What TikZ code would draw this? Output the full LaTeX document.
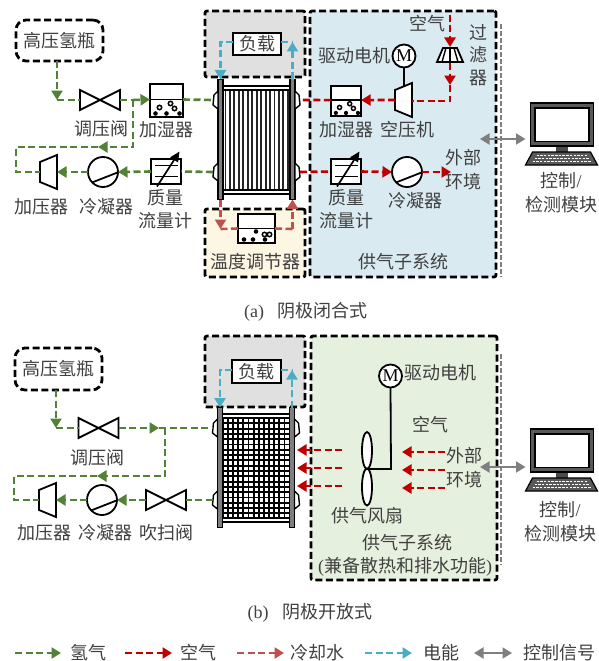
\documentclass[tikz,border=0pt]{standalone}
\usepackage{fontspec}
\setmainfont{Liberation Serif}
\newfontfamily\cjkfam{Noto Sans CJK SC}
\usetikzlibrary{arrows.meta}
\definecolor{txt}{HTML}{404040}
\definecolor{hgreen}{HTML}{538135}
\definecolor{ared}{HTML}{C00000}
\definecolor{cred}{HTML}{C0504D}
\definecolor{eblue}{HTML}{4BACC6}
\definecolor{sgray}{HTML}{7F7F7F}
\definecolor{loadfill}{HTML}{E0E0E0}
\definecolor{tempfill}{HTML}{FDF6E3}
\definecolor{airfill}{HTML}{DAEAF1}
\definecolor{fanfill}{HTML}{E6F0DF}
\newcommand{\stackframe}{%
  \foreach \s in {-1,1}{
    \draw[line width=1.4pt,fill=sgray] (\s*33.5,-60) rectangle (\s*38.5,60);
    \foreach \b in {-39.5,32.5}{
      \draw[line width=1.4pt,fill=white] (\s*38.5,\b-9) -- (\s*42.5,\b-5) -- (\s*43.5,\b+5) -- (\s*38.5,\b+9) -- cycle;
    }
  }
  \draw[line width=1.4pt,fill=white] (-33.5,-53.5) rectangle (33.5,-49.5);
  \draw[line width=1.4pt,fill=white] (-33.5,50.5) rectangle (33.5,54.5);
  \coordinate (-wn) at (-43.5,-39.5);
  \coordinate (-ws) at (-43.5,32.5);
  \coordinate (-en) at (43.5,-39.5);
  \coordinate (-es) at (43.5,32.5);
  \coordinate (-tl) at (-36,-60);
  \coordinate (-tr) at (36,-60);
  \coordinate (-bl) at (-36,60);
  \coordinate (-br) at (36,60);
}
\tikzset{
  x=1pt,y=-1pt,
  lbl/.style={font=\fontsize{18}{20}\cjkfam,text=txt,inner sep=0pt,outer sep=0pt},
  dbox/.style={draw=black,line width=2.8pt,dash pattern=on 7pt off 3.5pt,rounded corners=2pt,inner sep=0pt,outer sep=0pt},
  sbox/.style={draw=black,line width=1.9pt,fill=white,inner sep=0pt,outer sep=0pt,font=\fontsize{18}{20}\cjkfam,text=txt},
  pipe/.style={line width=2.6pt,dash pattern=on 7pt off 3.5pt},
  h2/.style={pipe,draw=hgreen},
  air/.style={pipe,draw=ared},
  cool/.style={pipe,draw=cred},
  elec/.style={pipe,draw=eblue},
  tip/.style={-{Triangle[length=9.5pt,width=11pt]}},
  ctrl/.style={draw=sgray,line width=1.9pt,{Triangle[length=9.5pt,width=11pt]}-{Triangle[length=9.5pt,width=11pt]}},
  sysline/.style={draw=sgray,line width=2.4pt,dash pattern=on 5pt off 2pt},
  part/.style={draw=black,line width=1.8pt},
  pics/valve/.style={code={
    \draw[part,fill=white] (-20,-10) -- (20,10) -- (20,-10) -- (-20,10) -- cycle;
    \coordinate (-w) at (-20,0);\coordinate (-e) at (20,0);
  }},
  pics/cond/.style={code={
    \draw[part,fill=white] (0,0) circle (15);
    \draw[part] (-11,10.5) -- (14.5,0.5);
    \coordinate (-w) at (-15,0);\coordinate (-e) at (15,0);
  }},
  pics/compL/.style={code={
    \draw[part,fill=white] (-8.5,-10) -- (8.5,-17) -- (8.5,17) -- (-8.5,10) -- cycle;
    \coordinate (-w) at (-8.5,0);\coordinate (-e) at (8.5,0);
  }},
  pics/flowm/.style={code={
    \draw[part,fill=white] (-15,-12.5) rectangle (15,12.5);
    \draw[part] (-11,-6) -- (12,-6);
    \draw[part] (-11,5) -- (12,5);
    \draw[line width=1.7pt,-{Triangle[length=10pt,width=9pt]}] (-9,15) -- (13.5,-20);
    \coordinate (-w) at (-15,0);\coordinate (-e) at (15,0);
  }},
  pics/humid/.style={code={
    \draw[part,fill=white] (-16.5,-16.5) rectangle (16.5,16.5);
    \draw[part] (-16.5,-1) -- (16.5,-1);
    \foreach \p in {(-7,7),(4,3),(8,8)} \draw[line width=1.5pt] \p circle (2.2);
    \foreach \p in {(-11,13),(0,13),(13,13)} \fill \p circle (2.3);
    \coordinate (-w) at (-16.5,-1);\coordinate (-e) at (16.5,-1);
  }},
  pics/tempunit/.style={code={
    \draw[part,fill=white] (-18.5,-14.5) rectangle (18.5,14.5);
    \draw[part] (-18.5,0) -- (18.5,0);
    \foreach \p in {(8,6),(13,6)} \draw[line width=1.5pt] \p circle (2.2);
    \foreach \p in {(-0.5,3),(-12.5,11),(-3.5,11),(8.5,11)} \fill \p circle (2.3);
    \coordinate (-w) at (-18.5,0);\coordinate (-e) at (18.5,0);
  }},
  pics/stackfins/.style={code={
    \fill[white] (-33.5,-50) rectangle (33.5,51);
    \foreach \i in {0,...,14} \draw[line width=1.9pt,draw=black!85] (-31+\i*4.45,-49.5) -- (-31+\i*4.45,50.5);
    \stackframe
  }},
  pics/stackgrid/.style={code={
    \fill[black] (-33.5,-50) rectangle (33.5,51);
    \foreach \i in {0,...,12} \foreach \j in {0,...,18}
      \fill[white] (-32.4+\i*5.15,-48.6+\j*5.3) rectangle ++(3.3,3.4);
    \stackframe
  }},
  pics/motor/.style={code={
    \draw[part,fill=white] (0,0) circle (11.5);
    \node[font=\fontsize{18}{20}\selectfont,text=black,inner sep=0pt] at (0,0) {M};
    \coordinate (-s) at (0,11.5);
  }},
  pics/monitor/.style={code={
    \fill[black!70] (-6,42) rectangle (6,50);
    \draw[line width=1.6pt,draw=black,fill=black!65] (-31,0) rectangle (32,43);
    \draw[line width=1.6pt,draw=black,fill=white] (-26.5,5) rectangle (27.5,38.5);
    \draw[line width=1.2pt,draw=black,fill=black!65] (-36,62) -- (36,62) -- (29,49) -- (-29,49) -- cycle;
    \foreach \r/\a in {52.5/25,55.5/27,58.5/29}
      \draw[white,line width=1.6pt,dash pattern=on 2.5pt off 1.2pt] (-\a,\r) -- (\a,\r);
    \coordinate (-w) at (-36,38);
  }}
}
\begin{document}
\begin{tikzpicture}
\useasboundingbox[fill=white] (0,0) rectangle (599,661);

% ----------- panel (a)
\node[dbox,fill=loadfill,minimum width=100pt,minimum height=66pt] (loadA) at (255,44) {};
\node[dbox,fill=tempfill,minimum width=100pt,minimum height=68pt] (tempA) at (255,243) {};
\node[dbox,fill=airfill,minimum width=186pt,minimum height=266pt] (airA) at (403,144) {};
\node[lbl,dbox,rounded corners=10pt,fill=white,minimum width=87pt,minimum height=41pt] (tankA) at (59.5,40.5) {高压氢瓶};
\draw[sysline] (501,24) -- (501,277);

\pic (stA) at (256.5,139.5) {stackfins};
\node[sbox,minimum width=48pt,minimum height=22pt] (lA) at (257,44) {负载};
\pic (va) at (100,100) {valve};
\pic (huA) at (166.5,100.5) {humid};
\pic (coA) at (48.5,172) {compL};
\pic (cdA) at (103,172) {cond};
\pic (fmA) at (166,171.5) {flowm};
\pic (tuA) at (256.5,228.5) {tempunit};
\pic[scale=.92] (huB) at (346,101) {humid};
\pic (coB) at (403.5,100) {compL};
\pic (moA) at (404,56) {motor};
\pic (fmB) at (346,171.5) {flowm};
\pic (cdB) at (407,172) {cond};
\draw[part,fill=white] (443,48) -- (457,48) -- (463,62) -- (437,62) -- cycle;
\foreach \a/\b in {446/442,450/450,454/458} \draw[line width=1.4pt] (\a,48) -- (\b,62);
\coordinate (fiT) at (450,47);
\coordinate (fiB) at (450,63);
\coordinate (fiI) at (450,15);
\draw[part] (moA-s) -- (404,87);

% hydrogen (a)
\coordinate (a1) at (57,100);
\coordinate (a2) at (133,100);
\coordinate (a3) at (133,147);
\coordinate (a4) at (98,147);
\coordinate (a5) at (16,147);
\coordinate (a6) at (16,172);
\draw[h2,tip] (tankA.south -| a1) -- (a1);
\draw[h2] (a1) -- (va-w);
\draw[h2] (va-e) -- (a2);
\draw[h2,tip] (a2) -- (huA-w);
\draw[h2] (huA-e) -- (stA-wn);
\draw[h2,tip] (a2) -- (a3) -- (a4);
\draw[h2] (a4) -- (a5) -- (a6) -- (coA-w);
\draw[h2,tip] (cdA-w) -- (coA-e);
\draw[h2,tip] (fmA-w) -- (cdA-e);
\draw[h2] (stA-ws) -- (fmA-e);

% electric (a)
\coordinate (b1) at (220.5,42);
\coordinate (b2) at (292.5,42);
\draw[elec,tip] (lA.west |- b1) -- (b1) -- (stA-tl);
\draw[elec] (lA.east |- b2) -- (b2);
\draw[elec,tip] (stA-tr) -- (b2);

% cooling (a)
\coordinate (c1) at (220.5,229);
\coordinate (c2) at (292.5,229);
\draw[cool] (c1) -- (tuA-w);
\draw[cool,tip] (stA-bl) -- (c1);
\draw[cool] (tuA-e) -- (c2);
\draw[cool,tip] (c2) -- (stA-br);

% air (a)
\coordinate (d1) at (450,85);
\coordinate (d2) at (450,101);
\draw[air,tip] (fiI) -- (fiT);
\draw[air,tip] (fiB) -- (d1);
\draw[air] (d1) -- (d2) -- (coB-e |- d2);
\draw[air,tip] (coB-w) -- (huB-e);
\draw[air] (huB-w) -- (stA-en);
\draw[air] (stA-es) -- (fmB-w);
\draw[air,tip] (fmB-e) -- (cdB-w);
\coordinate (d3) at (451,172);
\draw[air,tip] (cdB-e) -- (d3);

% computer (a)
\pic (pcA) at (561.5,103) {monitor};
\coordinate (e1) at (480,139);
\draw[ctrl] (e1) -- (pcA-w |- e1);

% labels (a)
\node[lbl] (t01) at (101,129) {调压阀};
\node[lbl] (t02) at (166,130) {加湿器};
\node[lbl] (t03) at (41,207) {加压器};
\node[lbl] (t04) at (106,207) {冷凝器};
\node[lbl] (t05) at (165,198) {质量};
\node[lbl] (t06) at (165,221) {流量计};
\node[lbl] (t07) at (255,262) {温度调节器};
\node[lbl] (t08) at (427,24) {空气};
\node[lbl] (t09) at (478,32) {过};
\node[lbl] (t10) at (478,55) {滤};
\node[lbl] (t11) at (478,78) {器};
\node[lbl] (t12) at (354,56) {驱动电机};
\node[lbl] (t13) at (346,130) {加湿器};
\node[lbl] (t14) at (407,130) {空压机};
\node[lbl] (t15) at (463,158) {外部};
\node[lbl] (t16) at (463,182) {环境};
\node[lbl] (t17) at (346,198) {质量};
\node[lbl] (t18) at (346,221) {流量计};
\node[lbl] (t19) at (415,201) {冷凝器};
\node[lbl] (t20) at (403,262) {供气子系统};
\node[lbl] (t21) at (561,181) {控制{\rmfamily /}};
\node[lbl] (t22) at (561,205) {检测模块};
\node[lbl] (t23) at (306,312) {{\rmfamily (a)}\hspace{14pt}阴极闭合式};

% ----------- panel (b)
\node[dbox,fill=loadfill,minimum width=100pt,minimum height=71pt] (loadB) at (255,371.5) {};
\node[dbox,fill=fanfill,minimum width=186pt,minimum height=244pt] (airC) at (404,458) {};
\node[lbl,dbox,rounded corners=10pt,fill=white,minimum width=87pt,minimum height=42pt] (tankB) at (58.5,369) {高压氢瓶};
\draw[sysline] (501,354) -- (501,565);

\pic (stB) at (256,467.5) {stackgrid};
\node[sbox,minimum width=49pt,minimum height=23pt] (lB) at (256.5,371.5) {负载};
\pic (vb) at (98.5,428) {valve};
\pic (vc) at (166,500) {valve};
\pic (coC) at (47.5,500) {compL};
\pic (cdC) at (102,500) {cond};
\pic (moB) at (390.5,376) {motor};
\coordinate (fanhub) at (367,469);
\draw[part,fill=white] (367,450.5) ellipse (5 and 18.5);
\draw[part,fill=white] (367,487) ellipse (5 and 18.5);
\draw[part] (moB-s) -- (391,469) -- (fanhub);

% hydrogen (b)
\coordinate (f1) at (56,428);
\coordinate (f2) at (165,428);
\coordinate (f3) at (165,476);
\coordinate (f4) at (97,476);
\coordinate (f5) at (14,476);
\coordinate (f6) at (14,500);
\coordinate (f7) at (159,428);
\draw[h2,tip] (tankB.south -| f1) -- (f1);
\draw[h2] (f1) -- (vb-w);
\draw[h2,tip] (vb-e) -- (f7);
\draw[h2] (f7) -- (stB-wn);
\draw[h2,tip] (f2) -- (f3) -- (f4);
\draw[h2] (f4) -- (f5) -- (f6) -- (coC-w);
\draw[h2,tip] (cdC-w) -- (coC-e);
\draw[h2,tip] (vc-w) -- (cdC-e);
\draw[h2] (stB-ws) -- (vc-e);

% electric (b)
\coordinate (g1) at (220,370);
\coordinate (g2) at (292,370);
\draw[elec,tip] (lB.west |- g1) -- (g1) -- (stB-tl);
\draw[elec] (lB.east |- g2) -- (g2);
\draw[elec,tip] (stB-tr) -- (g2);

% air (b)
\foreach \n/\yy in {1/452,2/470,3/488}{
  \coordinate (ii\n) at (445,\yy);
  \coordinate (ij\n) at (402,\yy);
  \draw[air,tip] (ii\n) -- (ij\n);
}
\foreach \n/\yy in {1/450,2/468,3/486}{
  \coordinate (oi\n) at (342,\yy);
  \coordinate (oj\n) at (297,\yy);
  \draw[air,tip] (oi\n) -- (oj\n);
}

% computer (b)
\pic (pcB) at (561.5,429) {monitor};
\coordinate (e2) at (480,467);
\draw[ctrl] (e2) -- (pcB-w |- e2);

% labels (b)
\node[lbl] (u01) at (97,458) {调压阀};
\node[lbl] (u02) at (44,533) {加压器};
\node[lbl] (u03) at (105,533) {冷凝器};
\node[lbl] (u04) at (166,533) {吹扫阀};
\node[lbl] (u05) at (440,373) {驱动电机};
\node[lbl] (u06) at (430,425) {空气};
\node[lbl] (u07) at (464,456) {外部};
\node[lbl] (u08) at (464,480) {环境};
\node[lbl] (u09) at (367,516) {供气风扇};
\node[lbl] (u10) at (407,543) {供气子系统};
\node[lbl] (u11) at (405,567) {{\rmfamily (}兼备散热和排水功能{\rmfamily )}};
\node[lbl] (u12) at (560,510) {控制{\rmfamily /}};
\node[lbl] (u13) at (560,534) {检测模块};
\node[lbl] (u14) at (310,613) {{\rmfamily (b)}\hspace{14pt}阴极开放式};

% ----------- legend
\coordinate (k1a) at (15,653);\coordinate (k1b) at (61,653);
\coordinate (k2a) at (125,653);\coordinate (k2b) at (172,653);
\coordinate (k3a) at (237,653);\coordinate (k3b) at (284,653);
\coordinate (k4a) at (365,653);\coordinate (k4b) at (412,653);
\coordinate (k5a) at (474,653);\coordinate (k5b) at (512,653);
\draw[h2,tip] (k1a) -- (k1b);
\draw[air,tip] (k2a) -- (k2b);
\draw[cool,tip] (k3a) -- (k3b);
\draw[elec,tip] (k4a) -- (k4b);
\draw[ctrl] (k5a) -- (k5b);
\node[lbl] (l1) at (88,653) {氢气};
\node[lbl] (l2) at (198,653) {空气};
\node[lbl] (l3) at (317,653) {冷却水};
\node[lbl] (l4) at (441,653) {电能};
\node[lbl] (l5) at (559,653) {控制信号};
\end{tikzpicture}
\end{document}
